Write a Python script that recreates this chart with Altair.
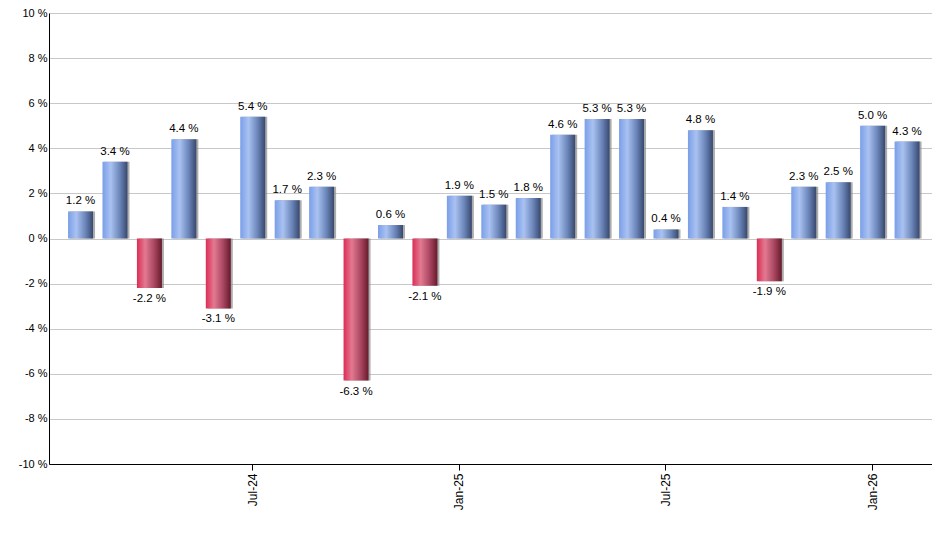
import altair as alt
import pandas as pd

months = ["Feb-24", "Mar-24", "Apr-24", "May-24", "Jun-24", "Jul-24", "Aug-24", "Sep-24",
          "Oct-24", "Nov-24", "Dec-24", "Jan-25", "Feb-25", "Mar-25", "Apr-25", "May-25",
          "Jun-25", "Jul-25", "Aug-25", "Sep-25", "Oct-25", "Nov-25", "Dec-25", "Jan-26", "Feb-26"]
values = [1.2, 3.4, -2.2, 4.4, -3.1, 5.4, 1.7, 2.3, -6.3, 0.6, -2.1, 1.9, 1.5, 1.8, 4.6,
          5.3, 5.3, 0.4, 4.8, 1.4, -1.9, 2.3, 2.5, 5.0, 4.3]
tick_months = ["Jul-24", "Jan-25", "Jul-25", "Jan-26"]

df = pd.DataFrame({"month": months, "value": values})
df["label"] = df["value"].map(lambda v: f"{v:.1f} %")

FONT = "Liberation Sans"

x_enc = alt.X(
    "month:N", sort=months,
    scale=alt.Scale(paddingInner=0, paddingOuter=0.32, align=0.65),
    axis=alt.Axis(values=tick_months, title=None, labelAngle=270, labelAlign="right",
                  labelBaseline="middle", tickSize=6, tickColor="black", domainColor="black",
                  labelColor="black", labelFont=FONT, labelFontSize=12, labelPadding=3,
                  grid=False, bandPosition=0.5, labelOverlap=False),
)
y_enc = alt.Y(
    "value:Q",
    scale=alt.Scale(domain=[-10, 10], nice=False),
    axis=alt.Axis(values=list(range(-10, 11, 2)), title=None, labelExpr="datum.value + ' %'",
                  tickSize=0, domainColor="black", labelColor="black", labelFont=FONT,
                  labelFontSize=11, labelPadding=2, gridColor="#c8c8c8", gridWidth=1),
)

blue = alt.Gradient(gradient="linear", x1=0, x2=1, y1=0, y2=0, stops=[
    alt.GradientStop(color="#7a9ee8", offset=0),
    alt.GradientStop(color="#a9c2f1", offset=0.33),
    alt.GradientStop(color="#6a84b8", offset=0.7),
    alt.GradientStop(color="#37486d", offset=1),
])
red = alt.Gradient(gradient="linear", x1=0, x2=1, y1=0, y2=0, stops=[
    alt.GradientStop(color="#db2d55", offset=0),
    alt.GradientStop(color="#e27a91", offset=0.33),
    alt.GradientStop(color="#a84560", offset=0.7),
    alt.GradientStop(color="#661a2b", offset=1),
])

base = alt.Chart(df)

shadow = base.mark_bar(size=25, color="#8a8a8a", opacity=0.7, xOffset=2).encode(
    x=x_enc, y=y_enc, y2=alt.datum(0))
pos = base.transform_filter("datum.value >= 0").mark_bar(size=25, color=blue).encode(
    x=x_enc, y=y_enc, y2=alt.datum(0))
neg = base.transform_filter("datum.value < 0").mark_bar(size=25, color=red).encode(
    x=x_enc, y=y_enc, y2=alt.datum(0))
pos_txt = base.transform_filter("datum.value >= 0").mark_text(
    baseline="bottom", dy=-5, font=FONT, fontSize=11.5, color="black").encode(
    x=x_enc, y=y_enc, text="label:N")
neg_txt = base.transform_filter("datum.value < 0").mark_text(
    baseline="top", dy=5, font=FONT, fontSize=11.5, color="black").encode(
    x=x_enc, y=y_enc, text="label:N")

chart = alt.layer(shadow, pos, neg, pos_txt, neg_txt).properties(
    width=883, height=451,
    padding={"left": 41, "top": 5, "right": 0, "bottom": 60},
    autosize=alt.AutoSizeParams(type="none"),
).configure_view(stroke=None).configure(background="white")

chart.save("out.html", embed_options={"renderer": "svg", "actions": False})
